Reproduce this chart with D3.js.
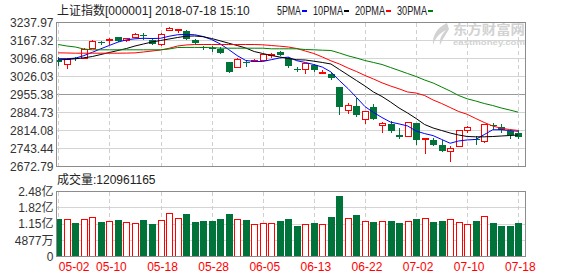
<!DOCTYPE html>
<html>
<head>
<meta charset="utf-8">
<script src="https://cdn.jsdelivr.net/npm/d3@7/dist/d3.min.js"></script>
<style>
  body { margin: 0; background: #fff; }
  svg { display: block; }
  text { font-family: "Liberation Sans", Arial, "Noto Sans CJK SC", sans-serif; font-size: 12px; }
</style>
</head>
<body>
<svg id="chart" width="578" height="276"></svg>
<script>
// trading days shown on the chart
const dates = [
  '2018-05-02','2018-05-03','2018-05-04','2018-05-07','2018-05-08','2018-05-09','2018-05-10','2018-05-11',
  '2018-05-14','2018-05-15','2018-05-16','2018-05-17','2018-05-18','2018-05-21','2018-05-22','2018-05-23',
  '2018-05-24','2018-05-25','2018-05-28','2018-05-29','2018-05-30','2018-05-31','2018-06-01','2018-06-04',
  '2018-06-05','2018-06-06','2018-06-07','2018-06-08','2018-06-11','2018-06-12','2018-06-13','2018-06-14',
  '2018-06-15','2018-06-19','2018-06-20','2018-06-21','2018-06-22','2018-06-25','2018-06-26','2018-06-27',
  '2018-06-28','2018-06-29','2018-07-02','2018-07-03','2018-07-04','2018-07-05','2018-07-06','2018-07-09',
  '2018-07-10','2018-07-11','2018-07-12','2018-07-13','2018-07-16','2018-07-17','2018-07-18'
];

// daily OHLC
const open = [3091,3076,3097,3099,3139,3160,3171,3180,3170,3183,3189,3170,3155,3210,3212,3206,3170,3143,3137,3135,
  3082,3062,3084,3085,3091,3112,3121,3100,3055,3056,3073,3040,3037,2983,2893,2912,2860,2906,2834,2841,
  2798,2792,2843,2779,2775,2756,2735,2752,2817,2781,2772,2834,2826,2812,2803];
const high = [3102,3097,3102,3138,3170,3166,3176,3183,3178,3196,3196,3174,3196,3219,3214,3208,3174,3147,3147,3143,
  3083,3099,3090,3094,3115,3118,3125,3103,3063,3080,3077,3050,3045,2984,2923,2942,2892,2918,2848,2850,
  2825,2849,2844,2786,2785,2777,2752,2816,2831,2794,2840,2842,2839,2815,2818];
const low = [3069,3056,3086,3095,3135,3150,3148,3160,3163,3178,3170,3150,3146,3206,3198,3170,3150,3130,3122,3115,
  3041,3058,3062,3082,3085,3100,3105,3060,3042,3036,3045,3035,3013,2875,2877,2868,2840,2855,2805,2805,
  2782,2787,2757,2722,2755,2730,2691,2750,2805,2758,2766,2818,2806,2782,2781];
const close = [3081,3096,3093,3135,3165,3157,3175,3165,3176,3193,3186,3155,3193,3216,3214,3174,3157,3141,3135,3120,
  3042,3095,3081,3091,3114,3116,3110,3068,3052,3079,3050,3044,3022,2908,2916,2876,2890,2860,2845,2813,
  2787,2847,2776,2784,2759,2734,2747,2815,2827,2778,2838,2831,2818,2798,2787];

// volume in shares
const volume = [134.7e6,137.6e6,119.6e6,137.6e6,145.8e6,122.5e6,129.4e6,130.6e6,125.3e6,121.2e6,130.6e6,115.5e6,
  133.5e6,162.1e6,141.7e6,155.2e6,122.5e6,126.5e6,126.5e6,134.7e6,155.2e6,137.6e6,130.6e6,114.3e6,118.4e6,
  118.4e6,126.5e6,134.7e6,106.1e6,114.3e6,119.6e6,114.3e6,142.9e6,228.8e6,141.7e6,151.1e6,126.5e6,122.5e6,
  126.5e6,126.5e6,118.4e6,126.5e6,134.7e6,141.7e6,122.5e6,126.5e6,134.7e6,122.5e6,114.3e6,126.5e6,147.0e6,
  118.4e6,106.1e6,106.1e6,120961165];

// moving averages (they need history before 05-02)
const ma5 = [3096,3096,3098,3108,3121,3135,3148,3161,3170,3174,3176,3175,3176,3184,3190,3191,3190,3183,3171,3154,
  3132,3108,3089,3085,3085,3092,3099,3102,3088,3081,3073,3063,3044,3010,2979,2944,2908,2885,2865,2847,
  2840,2832,2812,2802,2794,2779,2764,2773,2777,2779,2798,2817,2817,2814,2811];
const ma10 = [3091.6,3092.7,3095.5,3099.4,3104.5,3112.4,3120.2,3128.1,3135.9,3145.7,3153.6,3161.4,3167.3,3173.2,
  3179.1,3184.2,3185.0,3182.2,3175.0,3166.1,3156.7,3147.7,3137.9,3124.0,3116.3,3108.4,3102.6,3096.7,3092.0,
  3090.8,3086.1,3081.0,3075.1,3053.5,3031.9,3010.3,2988.7,2965.2,2947.5,2925.9,2902.4,2882.8,2861.2,2837.6,
  2823.9,2814.1,2804.2,2796.4,2790.5,2789.3,2789.3,2790.5,2792.5,2794.4,2796.4];
const ma20 = [3119.0,3118.3,3117.5,3117.5,3117.5,3117.5,3117.5,3117.5,3117.9,3118.7,3122.2,3126.1,3130.0,3136.7,
  3145.7,3149.7,3151.6,3151.6,3151.6,3151.6,3151.6,3151.6,3151.6,3151.6,3150.4,3147.7,3145.0,3141.8,3135.9,
  3126.1,3116.3,3102.6,3087.6,3075.1,3059.4,3045.6,3030.0,3016.2,3001.3,2988.7,2977.7,2965.2,2961.2,2951.4,
  2933.8,2920.0,2904.3,2888.6,2877.7,2861.2,2845.5,2831.8,2822.7,2818.0,2814.1];
const ma30 = [3151.6,3145.7,3141.8,3133.9,3130.8,3130.8,3130.8,3130.8,3130.8,3130.8,3130.8,3130.8,3130.8,3133.9,
  3139.8,3140.2,3140.2,3140.2,3140.2,3137.1,3137.1,3137.1,3137.1,3137.1,3137.1,3134.7,3134.7,3134.7,3134.7,
  3132.0,3130.8,3129.2,3128.1,3118.3,3107.3,3098.6,3088.8,3081.0,3073.1,3061.3,3049.6,3037.8,3026.0,3012.3,
  3000.5,2984.8,2969.1,2951.4,2938.5,2929.9,2920.0,2912.2,2902.4,2894.5,2885.9];

// axis ticks
const priceTicks = [2672.79,2743.44,2814.08,2884.73,2955.38,3026.03,3096.68,3167.32,3237.97];
const volTicks = [-17640000,48770000,115180000,181590000,248000000];
const volTickLabels = ['0','4877万','1.15亿','1.82亿','2.48亿'];
const dateTickLabels = ['05-02','05-10','05-18','05-28','06-05','06-13','06-22','07-02','07-10','07-18'];

const maNames = ['5PMA','10PMA','20PMA','30PMA'];
const maColors = ['#0000ff','#000000','#ff0000','#008000'];
const maSeries = [ma5, ma10, ma20, ma30];

const UP = '#ff0000', DOWN = '#00733a';
const L = 56.5, R = 525.5;
const mainTop = 22.5, mainBot = 166.5;
const volTop = 191.5, volBot = 256.5;

const svg = d3.select('#chart');

const x = d3.scalePoint().domain(dates).range([58.3, 518.3]);
const yP = d3.scaleLinear().domain([priceTicks[0], priceTicks[priceTicks.length - 1]]).range([mainBot, mainTop]);
const yV = d3.scaleLinear().domain([volTicks[0], volTicks[volTicks.length - 1]]).range([volBot, volTop]);

const defs = svg.append('defs');
defs.append('clipPath').attr('id', 'clipMain')
  .append('rect').attr('x', L).attr('y', mainTop).attr('width', R - L).attr('height', mainBot - mainTop);
defs.append('clipPath').attr('id', 'clipVol')
  .append('rect').attr('x', L).attr('y', volTop).attr('width', R - L).attr('height', volBot - volTop);

const tickDates = dateTickLabels.map(s => '2018-' + s);

// --- grid ---
function grid(top, bot, yScale, ticks, midIndex) {
  const g = svg.append('g').attr('shape-rendering', 'crispEdges');
  g.selectAll('line.h').data(ticks).join('line')
    .attr('x1', L).attr('x2', R)
    .attr('y1', d => Math.round(yScale(d) - 0.5) + 0.5)
    .attr('y2', d => Math.round(yScale(d) - 0.5) + 0.5)
    .attr('stroke', (d, i) => i === midIndex ? '#999' : '#d4d4d4');
  g.selectAll('line.v').data(tickDates).join('line')
    .attr('x1', d => Math.round(x(d)) + 0.5).attr('x2', d => Math.round(x(d)) + 0.5)
    .attr('y1', top).attr('y2', bot)
    .attr('stroke', '#cfcfcf').attr('stroke-dasharray', '4,3');
}
grid(mainTop, mainBot, yP, priceTicks, 4);
grid(volTop, volBot, yV, volTicks, -1);

// --- watermark ---
const wm = svg.append('g').attr('fill', '#d2d2d2');
wm.append('path')
  .attr('d', 'M447,23 C438,27 432,35 433,45 C435,38 440,33 446,30 C441,35 439,40 440,45 C443,38 447,33 449,29 Z');
wm.append('text').attr('x', 453).attr('y', 34).attr('font-weight', 'bold')
  .style('font-size', '13px').attr('textLength', 72).attr('lengthAdjust', 'spacingAndGlyphs').text('东方财富网');
wm.append('text').attr('x', 453).attr('y', 45).attr('font-weight', 'bold')
  .style('font-size', '8px').attr('textLength', 72).attr('lengthAdjust', 'spacingAndGlyphs').text('eastmoney.com');

// --- candles ---
const idx = dates.map((d, i) => i);
const gC = svg.append('g').attr('clip-path', 'url(#clipMain)');
idx.forEach(i => {
  const up = close[i] >= open[i];
  const col = up ? UP : DOWN;
  const cx = Math.round(x(dates[i]));
  const top = Math.round(yP(Math.max(open[i], close[i])));
  const bot = Math.round(yP(Math.min(open[i], close[i])));
  const yh = Math.round(yP(high[i])), yl = Math.round(yP(low[i]));
  if (up) {
    gC.append('line').attr('x1', cx + 0.5).attr('x2', cx + 0.5).attr('y1', yh).attr('y2', top).attr('stroke', col);
    gC.append('line').attr('x1', cx + 0.5).attr('x2', cx + 0.5).attr('y1', bot).attr('y2', yl).attr('stroke', col);
    gC.append('rect').attr('x', cx - 2.5).attr('y', top + 0.5).attr('width', 6).attr('height', Math.max(bot - top, 1))
      .attr('fill', '#fff').attr('stroke', col).attr('shape-rendering', 'crispEdges');
  } else {
    gC.append('line').attr('x1', cx + 0.5).attr('x2', cx + 0.5).attr('y1', yh).attr('y2', yl).attr('stroke', col);
    gC.append('rect').attr('x', cx - 3).attr('y', top).attr('width', 7).attr('height', Math.max(bot - top, 1))
      .attr('fill', col).attr('shape-rendering', 'crispEdges');
  }
});

// --- moving average lines ---
const gMA = svg.append('g').attr('clip-path', 'url(#clipMain)');
maSeries.forEach((s, k) => {
  const line = d3.line().x((d, i) => x(dates[i])).y(d => yP(d));
  gMA.append('path').datum(s).attr('d', line)
    .attr('fill', 'none').attr('stroke', maColors[k]).attr('stroke-width', 1);
});

// --- volume bars ---
const gV = svg.append('g').attr('clip-path', 'url(#clipVol)').attr('shape-rendering', 'crispEdges');
idx.forEach(i => {
  const up = close[i] >= open[i];
  const cx = Math.round(x(dates[i]));
  const yt = Math.round(yV(volume[i]));
  if (up) {
    gV.append('rect').attr('x', cx - 2.5).attr('y', yt + 0.5).attr('width', 6).attr('height', 256 - yt)
      .attr('fill', '#fff').attr('stroke', UP);
  } else {
    gV.append('rect').attr('x', cx - 3).attr('y', yt).attr('width', 7).attr('height', 257 - yt)
      .attr('fill', DOWN);
  }
});

// --- frames ---
svg.append('rect').attr('x', L).attr('y', mainTop).attr('width', R - L).attr('height', mainBot - mainTop)
  .attr('fill', 'none').attr('stroke', '#8c8c8c').attr('shape-rendering', 'crispEdges');
svg.append('rect').attr('x', L).attr('y', volTop).attr('width', R - L).attr('height', volBot - volTop)
  .attr('fill', 'none').attr('stroke', '#8c8c8c').attr('shape-rendering', 'crispEdges');

// --- axes ---
const axP = svg.append('g').attr('transform', `translate(${L},0)`)
  .call(d3.axisLeft(yP).tickValues(priceTicks).tickFormat(d3.format('.2f')).tickSize(0).tickPadding(3));
const axV = svg.append('g').attr('transform', `translate(${L},0)`)
  .call(d3.axisLeft(yV).tickValues(volTicks).tickFormat((d, i) => volTickLabels[i]).tickSize(0).tickPadding(3));
const axX = svg.append('g').attr('transform', `translate(0,${volBot})`)
  .call(d3.axisBottom(x).tickValues(tickDates).tickFormat(d => d.slice(5)).tickSize(0).tickPadding(6));
[axP, axV, axX].forEach(a => {
  a.select('.domain').remove();
  a.selectAll('text').style('font-family', '"Liberation Sans", Arial, "Noto Sans CJK SC", sans-serif').style('font-size', '12px');
});
axP.selectAll('text').attr('fill', '#333');
axV.selectAll('text').attr('fill', '#333');
axX.selectAll('text').attr('fill', '#ff0000').attr('dx', 1.5);
axX.selectAll('text').filter((d, i) => i === 0).attr('text-anchor', 'start').attr('dx', 0);

// --- header & legend ---
svg.append('text').attr('x', 57).attr('y', 15).attr('fill', '#222').text('上证指数[000001] 2018-07-18 15:10');
let lx = 277;
maNames.forEach((n, k) => {
  const w = n.length * 6;
  svg.append('text').attr('x', lx).attr('y', 15).attr('fill', '#222')
    .attr('textLength', w).attr('lengthAdjust', 'spacingAndGlyphs').text(n);
  svg.append('rect').attr('x', lx + w + 1).attr('y', 10).attr('width', 5).attr('height', 2).attr('fill', maColors[k]);
  lx += w + 12;
});

svg.append('text').attr('x', 57).attr('y', 184).attr('fill', '#222').text('成交量:' + volume[volume.length - 1]);
</script>
</body>
</html>
